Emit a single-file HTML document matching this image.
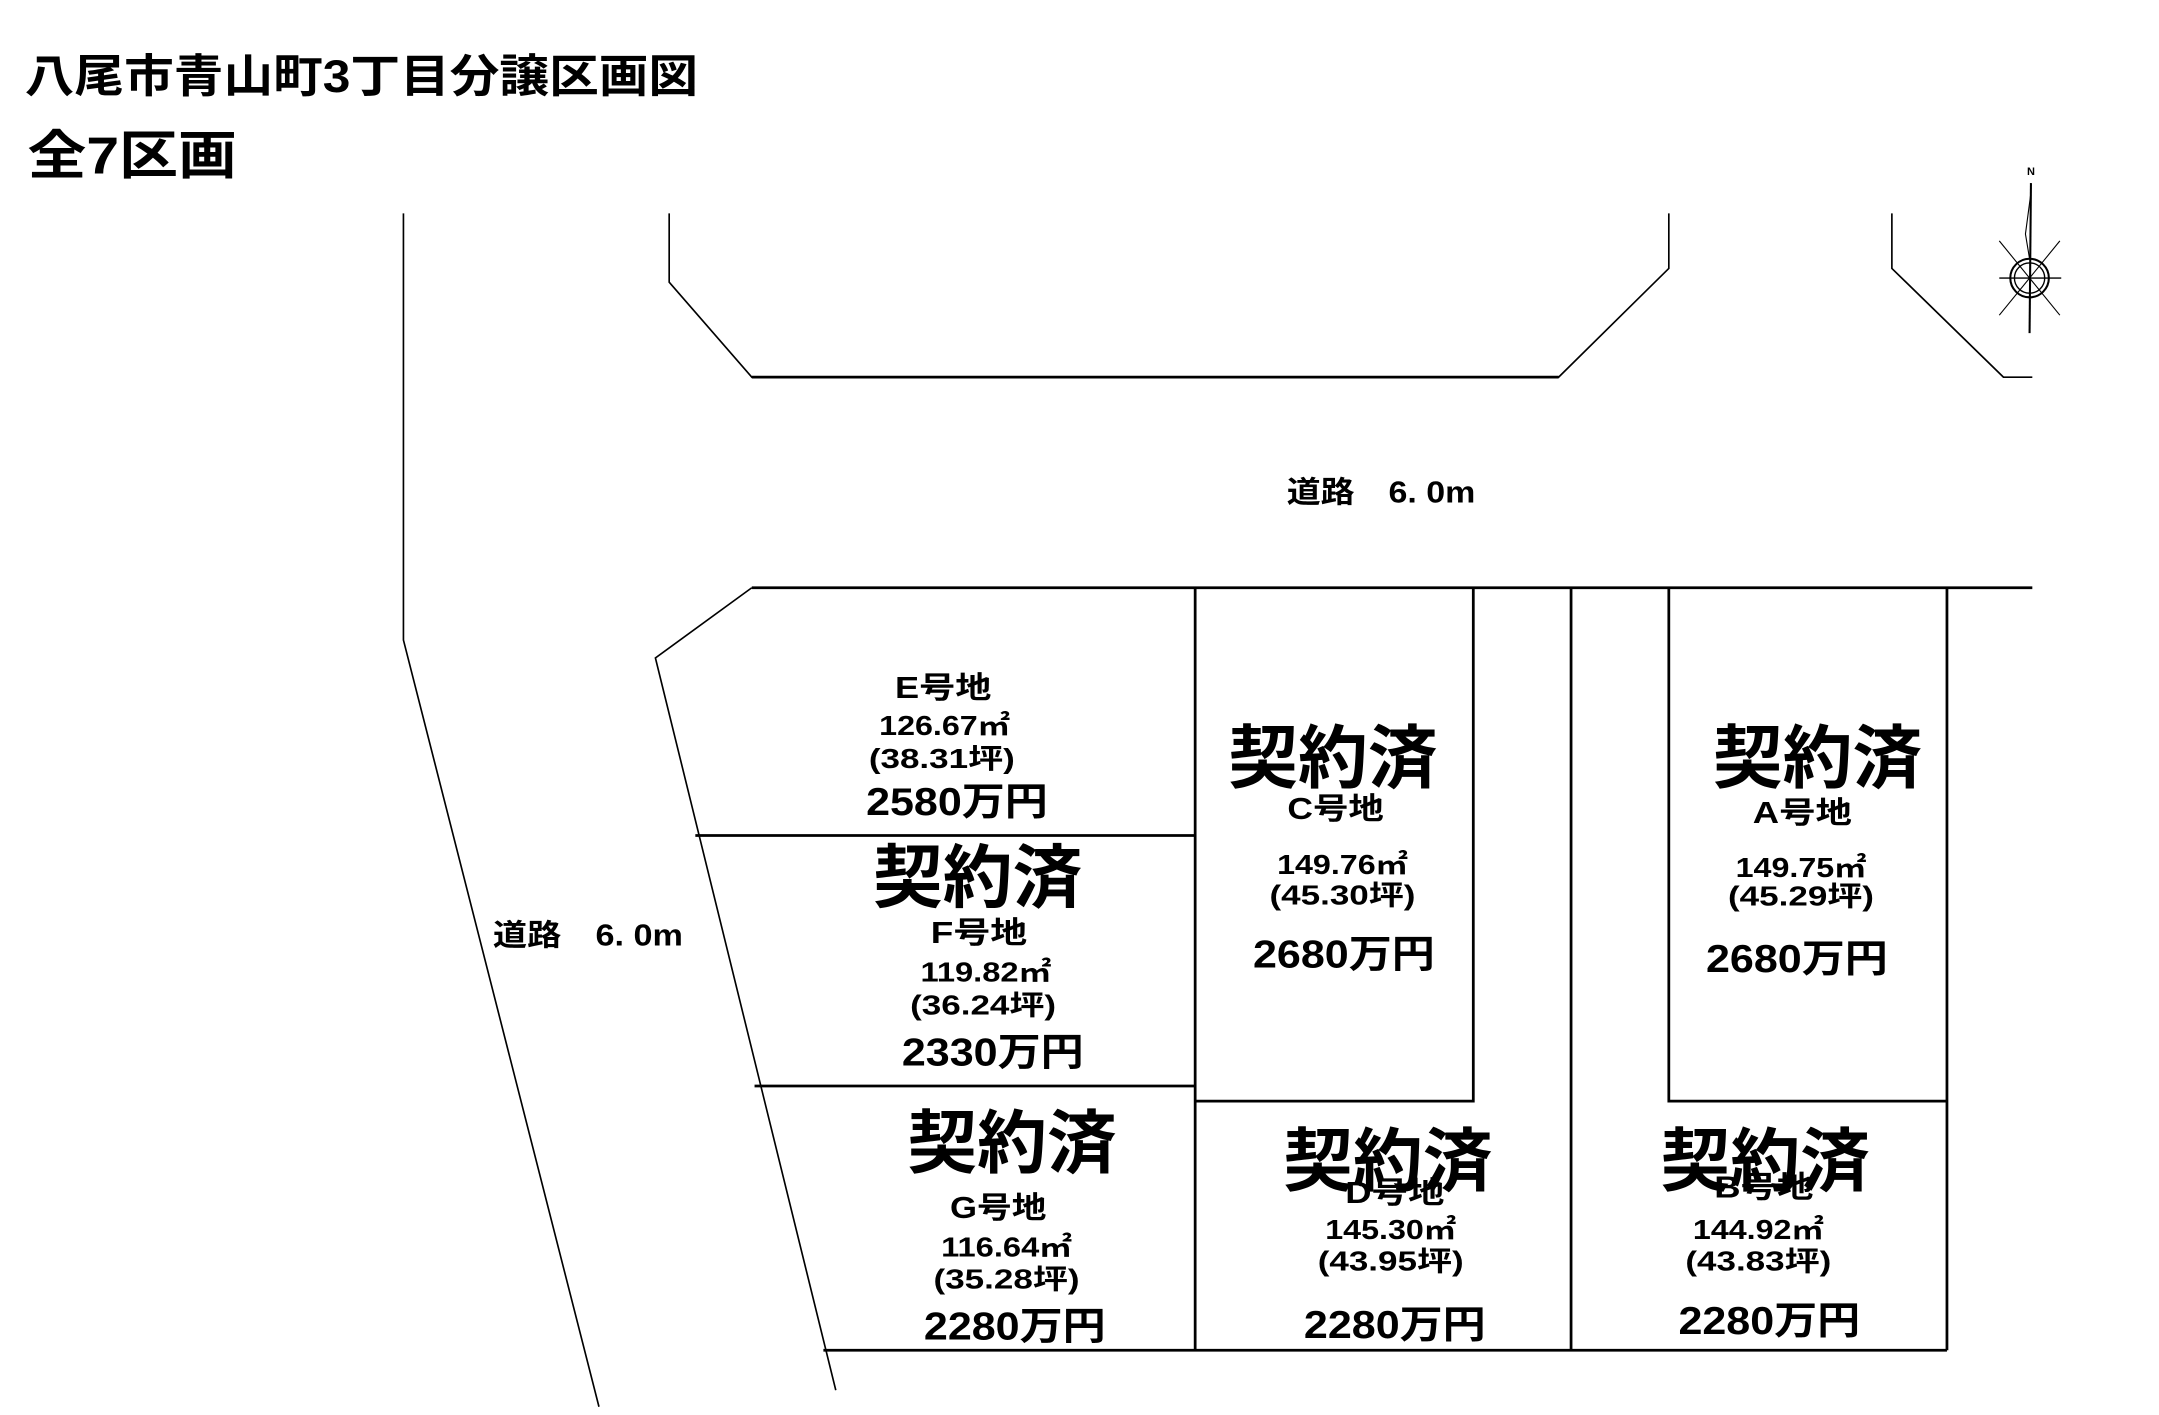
<!DOCTYPE html>
<html><head><meta charset="utf-8"><style>
html,body{margin:0;padding:0;background:#fff;}
svg{display:block;}
text{font-family:"Liberation Sans","Noto Sans CJK JP",sans-serif;font-weight:bold;fill:#000;}
</style></head><body>
<svg width="2159" height="1415" viewBox="0 0 1568 1028" preserveAspectRatio="none" xmlns="http://www.w3.org/2000/svg">
<rect width="1568" height="1028" fill="#fff"/>
<g fill="none" stroke="#000" stroke-width="1.2">
<polyline points="293,155 293,465 435,1022"/>
<polyline points="486,155 486,205 546,274 1132,274 1212,195 1212,155"/>
<polyline points="1374,155 1374,195 1455,274 1476,274"/>
<polyline points="546,427 476,478 607,1010"/>
</g>
<g fill="none" stroke="#000" stroke-width="2">
<line x1="546" y1="427" x2="1476" y2="427"/>
<line x1="546" y1="274" x2="1132" y2="274"/>
<line x1="505" y1="607" x2="868" y2="607"/>
<line x1="548" y1="789" x2="868" y2="789"/>
<line x1="598" y1="981" x2="1414" y2="981"/>
<line x1="868" y1="427" x2="868" y2="981"/>
<polyline points="1070,427 1070,800 868,800"/>
<line x1="1141" y1="427" x2="1141" y2="981"/>
<polyline points="1212,427 1212,800 1414,800"/>
<line x1="1414" y1="427" x2="1414" y2="981"/>
</g>
<!-- compass -->
<g stroke="#000" fill="none">
<line x1="1475" y1="133" x2="1474" y2="242" stroke-width="1.5"/>
<polyline points="1475,140 1471,170 1474,188" stroke-width="0.8"/>
<circle cx="1474" cy="202" r="14" stroke-width="1.5"/>
<circle cx="1474" cy="202" r="11" stroke-width="1"/>
<line x1="1452" y1="202" x2="1497" y2="202" stroke-width="1"/>
<line x1="1452" y1="175" x2="1496" y2="229" stroke-width="0.8"/>
<line x1="1496" y1="175" x2="1452" y2="229" stroke-width="0.8"/>
</g>
<text x="1475" y="127" font-size="8" text-anchor="middle">N</text>

<text x="18" y="67" font-size="33" textLength="489" lengthAdjust="spacingAndGlyphs">八尾市青山町3丁目分譲区画図</text>
<text x="20" y="126" font-size="38" textLength="152" lengthAdjust="spacingAndGlyphs">全7区画</text>
<text x="1003" y="365" font-size="22" text-anchor="middle" textLength="137" lengthAdjust="spacingAndGlyphs">道路　6. 0m</text>
<text x="427" y="687" font-size="22" text-anchor="middle" textLength="138" lengthAdjust="spacingAndGlyphs">道路　6. 0m</text>

<g text-anchor="middle" lengthAdjust="spacingAndGlyphs">
<!-- E -->
<text x="685" y="507" font-size="22" textLength="70" lengthAdjust="spacingAndGlyphs">E号地</text>
<text x="686" y="534" font-size="20" textLength="95" lengthAdjust="spacingAndGlyphs">126.67㎡</text>
<text x="684" y="558" font-size="20" textLength="106" lengthAdjust="spacingAndGlyphs">(38.31坪)</text>
<text x="695" y="592" font-size="28" textLength="132" lengthAdjust="spacingAndGlyphs">2580万円</text>
<!-- F -->
<text x="710" y="655" font-size="50" textLength="152" lengthAdjust="spacingAndGlyphs">契約済</text>
<text x="711" y="685" font-size="22" textLength="70" lengthAdjust="spacingAndGlyphs">F号地</text>
<text x="716" y="713" font-size="20" textLength="95" lengthAdjust="spacingAndGlyphs">119.82㎡</text>
<text x="714" y="737" font-size="20" textLength="106" lengthAdjust="spacingAndGlyphs">(36.24坪)</text>
<text x="721" y="774" font-size="28" textLength="132" lengthAdjust="spacingAndGlyphs">2330万円</text>
<!-- G -->
<text x="735" y="848" font-size="50" textLength="152" lengthAdjust="spacingAndGlyphs">契約済</text>
<text x="725" y="885" font-size="22" textLength="70" lengthAdjust="spacingAndGlyphs">G号地</text>
<text x="731" y="913" font-size="20" textLength="95" lengthAdjust="spacingAndGlyphs">116.64㎡</text>
<text x="731" y="936" font-size="20" textLength="106" lengthAdjust="spacingAndGlyphs">(35.28坪)</text>
<text x="737" y="973" font-size="28" textLength="132" lengthAdjust="spacingAndGlyphs">2280万円</text>
<!-- C -->
<text x="968" y="568" font-size="50" textLength="152" lengthAdjust="spacingAndGlyphs">契約済</text>
<text x="970" y="595" font-size="22" textLength="70" lengthAdjust="spacingAndGlyphs">C号地</text>
<text x="975" y="635" font-size="20" textLength="95" lengthAdjust="spacingAndGlyphs">149.76㎡</text>
<text x="975" y="657" font-size="20" textLength="106" lengthAdjust="spacingAndGlyphs">(45.30坪)</text>
<text x="976" y="703" font-size="28" textLength="132" lengthAdjust="spacingAndGlyphs">2680万円</text>
<!-- A -->
<text x="1320" y="568" font-size="50" textLength="152" lengthAdjust="spacingAndGlyphs">契約済</text>
<text x="1309" y="598" font-size="22" textLength="72" lengthAdjust="spacingAndGlyphs">A号地</text>
<text x="1308" y="637" font-size="20" textLength="95" lengthAdjust="spacingAndGlyphs">149.75㎡</text>
<text x="1308" y="658" font-size="20" textLength="106" lengthAdjust="spacingAndGlyphs">(45.29坪)</text>
<text x="1305" y="706" font-size="28" textLength="132" lengthAdjust="spacingAndGlyphs">2680万円</text>
<!-- D -->
<text x="1008" y="861" font-size="50" textLength="152" lengthAdjust="spacingAndGlyphs">契約済</text>
<text x="1013" y="874" font-size="22" textLength="72" lengthAdjust="spacingAndGlyphs">D号地</text>
<text x="1010" y="900" font-size="20" textLength="95" lengthAdjust="spacingAndGlyphs">145.30㎡</text>
<text x="1010" y="923" font-size="20" textLength="106" lengthAdjust="spacingAndGlyphs">(43.95坪)</text>
<text x="1013" y="972" font-size="28" textLength="132" lengthAdjust="spacingAndGlyphs">2280万円</text>
<!-- B -->
<text x="1282" y="861" font-size="50" textLength="152" lengthAdjust="spacingAndGlyphs">契約済</text>
<text x="1281" y="870" font-size="22" textLength="72" lengthAdjust="spacingAndGlyphs">B号地</text>
<text x="1277" y="900" font-size="20" textLength="95" lengthAdjust="spacingAndGlyphs">144.92㎡</text>
<text x="1277" y="923" font-size="20" textLength="106" lengthAdjust="spacingAndGlyphs">(43.83坪)</text>
<text x="1285" y="969" font-size="28" textLength="132" lengthAdjust="spacingAndGlyphs">2280万円</text>
</g>
</svg>
</body></html>
